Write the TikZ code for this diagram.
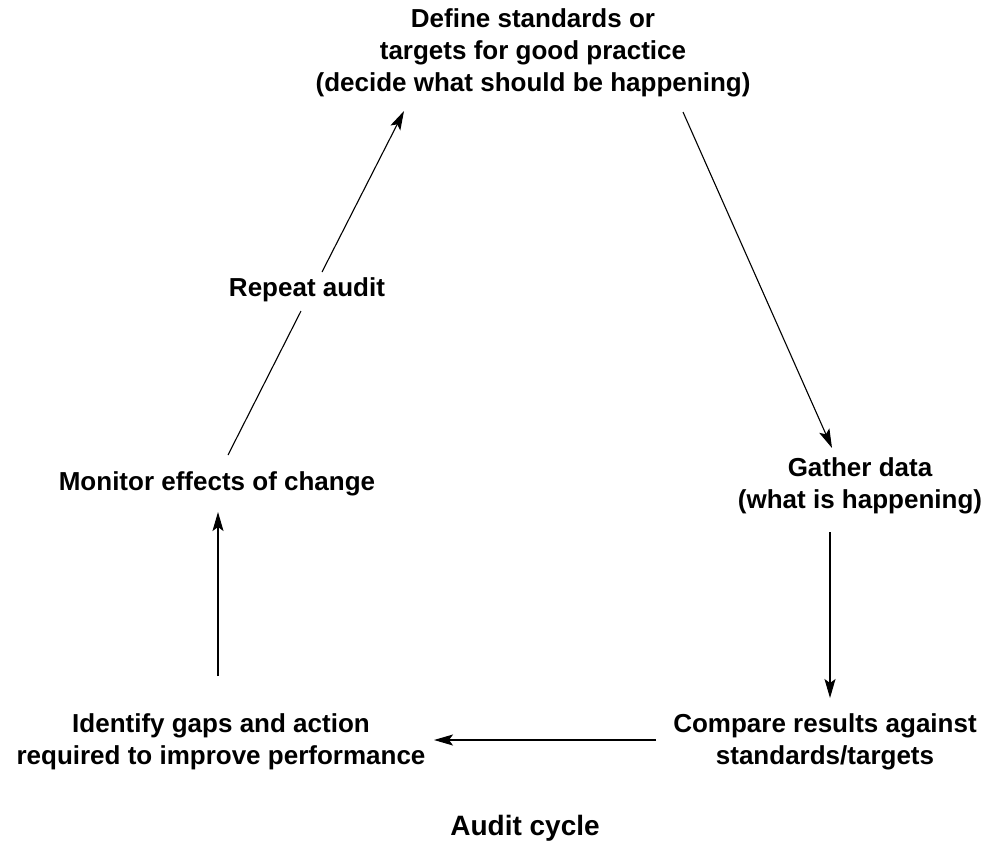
\documentclass[tikz,border=0pt]{standalone}
\usepackage{fontspec}
\setmainfont{Liberation Sans}
\usetikzlibrary{arrows.meta}
\begin{document}
\begin{tikzpicture}[x=1pt,y=-1pt,
  lbl/.style={font=\fontsize{26}{32}\selectfont\bfseries, align=center, inner sep=0pt},
  conn/.style={line width=1.1pt, -{Stealth[length=19pt,width=11pt,inset=4pt]}},
  plain/.style={line width=1.1pt}]
\useasboundingbox (0,0) rectangle (992,846);
\node[lbl] (define) at (533,53) {Define standards or\\targets for good practice\\(decide what should be happening)};
\node[lbl] (repeat) at (307,290) {Repeat audit};
\node[lbl] (monitor) at (217,484) {Monitor effects of change};
\node[lbl] (gather) at (860,486) {Gather data\\(what is happening)};
\node[lbl] (identify) at (221,742) {Identify gaps and action\\required to improve performance};
\node[lbl] (compare) at (825,742) {Compare results against\\standards/targets};
\node[font=\fontsize{28}{32}\selectfont\bfseries, inner sep=0pt] (caption) at (525,828) {Audit cycle};
\coordinate (m1) at (228,455);
\coordinate (r1) at (301,311);
\coordinate (r2) at (322,272);
\coordinate (d1) at (404,111);
\coordinate (d2) at (683,112);
\coordinate (g1) at (832,448);
\coordinate (g2) at (830,532);
\coordinate (c1) at (830,698);
\coordinate (c2) at (656,740);
\coordinate (i1) at (434,740);
\coordinate (i2) at (218,676);
\coordinate (m2) at (218,512);
\draw[plain] (m1) -- (r1);
\draw[conn] (r2) -- (d1);
\draw[conn] (d2) -- (g1);
\draw[conn] (g2) -- (c1);
\draw[conn] (c2) -- (i1);
\draw[conn] (i2) -- (m2);
\end{tikzpicture}
\end{document}
